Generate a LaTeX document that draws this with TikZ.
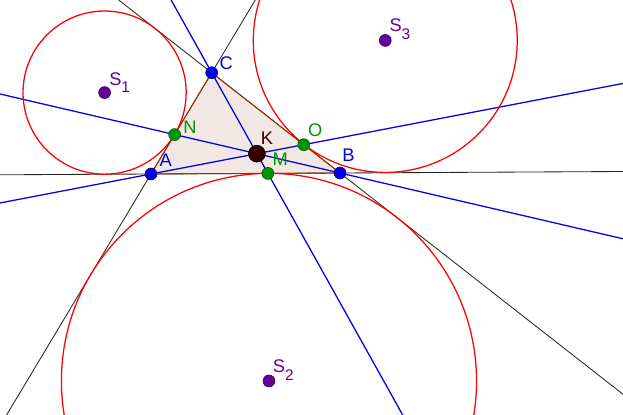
\documentclass[tikz,border=0pt]{standalone}
\usepackage{fontspec}
\setmainfont{Liberation Sans}
\usepackage{tkz-euclide}
\definecolor{ggblue}{RGB}{0,0,230}
\definecolor{ggdkblue}{RGB}{0,0,120}
\definecolor{gggreen}{RGB}{0,150,0}
\definecolor{ggdkgreen}{RGB}{0,80,0}
\definecolor{ggpurple}{RGB}{102,0,153}
\definecolor{ggdkpurple}{RGB}{50,0,80}
\definecolor{ggbrown}{RGB}{153,51,0}
\definecolor{ggfill}{RGB}{242,232,227}
\definecolor{ggkfill}{RGB}{51,0,0}
\newcommand{\lowidx}[1]{\raisebox{-5.5pt}{\fontsize{11}{12}\selectfont #1}}

\begin{document}
\begin{tikzpicture}[label style/.style={font=\fontsize{13}{15}\selectfont, inner sep=0pt, anchor=base west}]
	\tkzInit[xmin=0,xmax=15.575,ymin=0,ymax=10.35]
	\tkzClip
	\tkzDefPoint(3.775,6){A}
	\tkzDefPoint(8.5,6.025){B}
	\tkzDefPoint(5.2925,8.5325){C}
	\tkzDefLine[bisector out](B,A,C) \tkzGetPoint{a}
	\tkzDefLine[bisector out](C,B,A) \tkzGetPoint{b}
	\tkzDefLine[bisector out](A,C,B) \tkzGetPoint{c}
	\tkzInterLL(A,a)(C,c) \tkzGetPoint{S1}
	\tkzInterLL(A,a)(B,b) \tkzGetPoint{S2}
	\tkzInterLL(B,b)(C,c) \tkzGetPoint{S3}
	\tkzDefPointBy[projection=onto A--B](S2) \tkzGetPoint{M}
	\tkzDefPointBy[projection=onto A--C](S1) \tkzGetPoint{N}
	\tkzDefPointBy[projection=onto B--C](S3) \tkzGetPoint{O}
	\tkzInterLL(A,O)(B,N) \tkzGetPoint{K}
	\tkzFillPolygon[fill=ggfill](A,B,C)
	\tkzDrawLines[add=4 and 4, color=black!85, line width=0.6pt](A,B B,C C,A)
	\tkzDrawLines[add=4 and 4, color=ggblue, line width=0.9pt](A,O B,N C,M)
	\tkzDrawCircles[color=red, line width=0.9pt](S1,N S2,M S3,O)
	\tkzDrawPolygon[color=ggbrown, line width=0.7pt](A,B,C)
	\tkzDrawPoints[size=8.5, color=ggdkblue, fill=ggblue](A,B,C)
	\tkzDrawPoints[size=8.5, color=ggdkgreen, fill=gggreen](M,N,O)
	\tkzDrawPoints[size=8.5, color=ggdkpurple, fill=ggpurple](S1,S2,S3)
	\tkzDrawPoint[size=12, color=black, fill=ggkfill](K)
	\tkzLabelPoint[color=ggblue, xshift=0.21cm, yshift=0.18cm](A){A}
	\tkzLabelPoint[color=ggblue, xshift=0.05cm, yshift=0.30cm](B){B}
	\tkzLabelPoint[color=ggblue, xshift=0.19cm, yshift=0.07cm](C){C}
	\tkzLabelPoint[color=gggreen, xshift=0.21cm, yshift=0.02cm](N){N}
	\tkzLabelPoint[color=gggreen, xshift=0.10cm, yshift=0.21cm](O){O}
	\tkzLabelPoint[color=gggreen, xshift=0.11cm, yshift=0.20cm](M){M}
	\tkzLabelPoint[color=ggkfill, xshift=0.09cm, yshift=0.24cm](K){K}
	\tkzLabelPoint[color=ggpurple, xshift=0.11cm, yshift=0.19cm](S1){S\lowidx{1}}
	\tkzLabelPoint[color=ggpurple, xshift=0.09cm, yshift=0.21cm](S2){S\lowidx{2}}
	\tkzLabelPoint[color=ggpurple, xshift=0.10cm, yshift=0.22cm](S3){S\lowidx{3}}
\end{tikzpicture}
\end{document}
